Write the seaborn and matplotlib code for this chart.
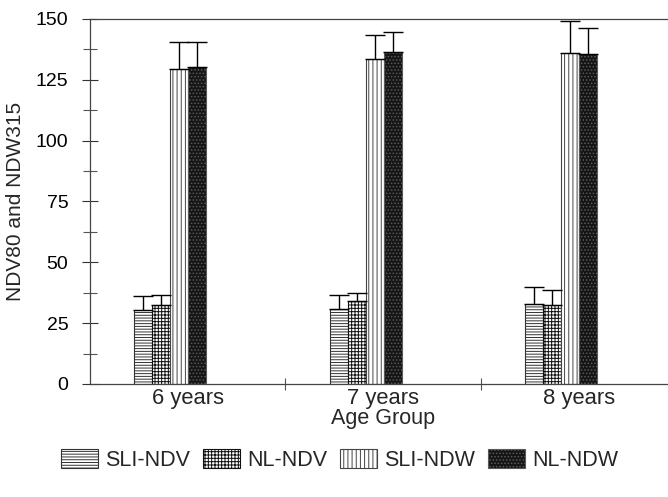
import numpy as np
import pandas as pd
import matplotlib
matplotlib.use("Agg")
import matplotlib.pyplot as plt
import seaborn as sns
from matplotlib.patches import Patch
from matplotlib.ticker import MultipleLocator, FixedLocator

ages = ["6 years", "7 years", "8 years"]
groups = ["SLI-NDV", "NL-NDV", "SLI-NDW", "NL-NDW"]
sli_ndv = [30.4, 30.8, 32.9]
nl_ndv = [32.5, 34.1, 32.5]
sli_ndw = [129.5, 133.6, 136.0]
nl_ndw = [130.3, 136.5, 135.6]
sli_ndv_err = [5.8, 5.8, 7.0]
nl_ndv_err = [4.1, 3.3, 6.1]
sli_ndw_err = [11.1, 9.8, 13.2]
nl_ndw_err = [10.3, 8.2, 10.7]

values = [sli_ndv, nl_ndv, sli_ndw, nl_ndw]
errors = [sli_ndv_err, nl_ndv_err, sli_ndw_err, nl_ndw_err]

rows = []
for g, vals in zip(groups, values):
    for a, v in zip(ages, vals):
        rows.append({"age": a, "group": g, "value": v})
df = pd.DataFrame(rows)

sns.set_style("ticks")
plt.rcParams["font.family"] = ["Liberation Sans", "DejaVu Sans"]
plt.rcParams["hatch.linewidth"] = 0.7

fig = plt.figure(figsize=(6.68, 4.97), dpi=100)
ax = fig.add_axes([90 / 668, 113 / 497, 586.5 / 668, 365 / 497])

styles = {
    "SLI-NDV": dict(facecolor="white", edgecolor="#333333", hatch="------"),
    "NL-NDV": dict(facecolor="white", edgecolor="#111111", hatch="+++++"),
    "SLI-NDW": dict(facecolor="white", edgecolor="#444444", hatch="||||"),
    "NL-NDW": dict(facecolor="#151515", edgecolor="#5a5a5a", hatch="....."),
}

sns.barplot(data=df, x="age", y="value", hue="group", order=ages,
            hue_order=groups, width=0.368, gap=0, errorbar=None,
            legend=False, ax=ax)

shift = 17.5 / 195.5
for cont, g, errs in zip(ax.containers, groups, errors):
    xs, ys = [], []
    for bar in cont:
        bar.set_x(bar.get_x() - shift)
        bar.set_facecolor(styles[g]["facecolor"])
        bar.set_edgecolor(styles[g]["edgecolor"])
        bar.set_hatch(styles[g]["hatch"])
        bar.set_linewidth(0.8)
        xs.append(bar.get_x() + bar.get_width() / 2)
        ys.append(bar.get_height())
    ax.errorbar(xs, ys, yerr=[np.zeros(len(errs)), errs], fmt="none",
                ecolor="black", elinewidth=1.0, capsize=7.5, capthick=1.0,
                zorder=3)

ax.set_xlim(-0.5, 2.5)
ax.set_ylim(0, 150)
ax.yaxis.set_major_locator(MultipleLocator(25))
ax.yaxis.set_minor_locator(MultipleLocator(12.5))
ax.tick_params(axis="y", which="major", direction="inout", length=11,
               width=0.8, labelsize=14, pad=10, colors="#333333",
               labelcolor="black")
ax.tick_params(axis="y", which="minor", direction="inout", length=10,
               width=0.8, colors="#555555")
ax.xaxis.set_minor_locator(FixedLocator([0.5, 1.5]))
ax.tick_params(axis="x", which="major", length=0, labelsize=15.8, pad=3)
ax.tick_params(axis="x", which="minor", direction="inout", length=8,
               width=0.8, colors="#555555")

for side in ["left", "bottom", "top"]:
    ax.spines[side].set_visible(True)
    ax.spines[side].set_linewidth(0.9)
    ax.spines[side].set_color("#444444")
ax.spines["right"].set_visible(False)

ax.set_ylabel("NDV80 and NDW315", fontsize=15, labelpad=8)
ax.set_xlabel("Age Group", fontsize=15.5, labelpad=-1)

handles = [Patch(facecolor=styles[g]["facecolor"],
                 edgecolor=styles[g]["edgecolor"],
                 hatch=styles[g]["hatch"], linewidth=0.8) for g in groups]
fig.legend(handles, groups, loc="center", bbox_to_anchor=(0.508, 0.074),
           ncol=4, frameon=False, fontsize=15.5, handlelength=1.72,
           handleheight=1.0, columnspacing=0.6, handletextpad=0.33)

fig.savefig("out.png", dpi=100)
